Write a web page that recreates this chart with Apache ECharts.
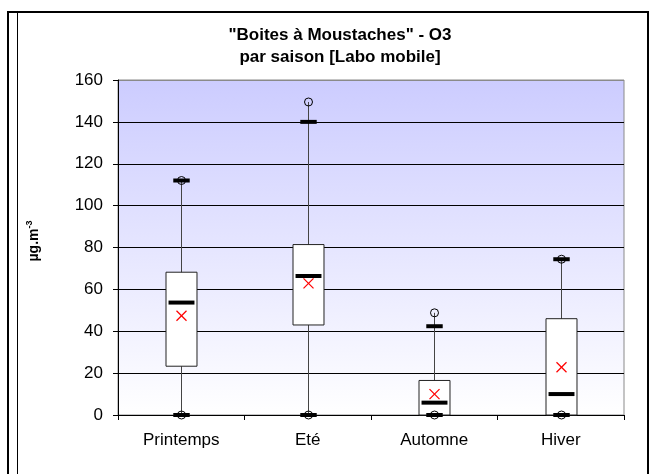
<!DOCTYPE html>
<html>
<head>
<meta charset="utf-8">
<script src="https://cdn.jsdelivr.net/npm/echarts@6/dist/echarts.min.js"></script>
<style>
  html, body { margin: 0; padding: 0; background: #fff; }
  #chart { width: 655px; height: 474px; }
</style>
</head>
<body>
<div id="chart"></div>
<script>
// Seasonal O3 box plots (µg.m-3)
const categories = ['Printemps', 'Eté', 'Automne', 'Hiver'];
const minVals  = [0, 0, 0, 0];
const lowBar   = [0, 0, 0, 0];
const q1       = [23.3, 43.0, 0, 0];
const median   = [53.7, 66.4, 5.9, 10.0];
const q3       = [68.2, 81.4, 16.5, 46.0];
const highBar  = [112.0, 140.0, 42.4, 74.4];
const maxVals  = [112.0, 149.5, 48.8, 74.4];
const meanVals = [47.4, 62.9, 10.0, 22.8];
const yTicks   = [0, 20, 40, 60, 80, 100, 120, 140, 160];

const FONT = 'Liberation Sans, Arial, sans-serif';

const seriesData = categories.map((c, i) => [
  i, minVals[i], lowBar[i], q1[i], median[i], q3[i], highBar[i], maxVals[i], meanVals[i]
]);

function renderBox(params, api) {
  const idx = api.value(0);
  const band = api.size([1, 0])[0];
  const pt = (k) => api.coord([idx, api.value(k)]);
  const pMin = pt(1), pLow = pt(2), pQ1 = pt(3), pMed = pt(4),
        pQ3 = pt(5), pHigh = pt(6), pMax = pt(7), pMean = pt(8);
  const cx = Math.round(pMin[0]) + 0.5;
  const boxW = band * 0.245;
  const medW = band * 0.205;
  const endW = band * 0.13;
  const r = 4;
  const xs = 5;
  const children = [
    { type: 'line', shape: { x1: cx, y1: pMax[1], x2: cx, y2: pMin[1] },
      style: { stroke: '#444', lineWidth: 1 } },
    { type: 'rect', shape: { x: cx - boxW / 2, y: pQ3[1], width: boxW, height: pQ1[1] - pQ3[1] },
      style: { fill: '#fff', stroke: '#222', lineWidth: 1 } },
    { type: 'line', shape: { x1: cx - medW / 2, y1: pMed[1], x2: cx + medW / 2, y2: pMed[1] },
      style: { stroke: '#000', lineWidth: 4 } },
    { type: 'line', shape: { x1: cx - xs, y1: pMean[1] - xs, x2: cx + xs, y2: pMean[1] + xs },
      style: { stroke: '#ff0000', lineWidth: 1.2 } },
    { type: 'line', shape: { x1: cx - xs, y1: pMean[1] + xs, x2: cx + xs, y2: pMean[1] - xs },
      style: { stroke: '#ff0000', lineWidth: 1.2 } },
    { type: 'line', shape: { x1: cx - endW / 2, y1: pHigh[1], x2: cx + endW / 2, y2: pHigh[1] },
      style: { stroke: '#000', lineWidth: 4 } },
    { type: 'line', shape: { x1: cx - endW / 2, y1: pLow[1], x2: cx + endW / 2, y2: pLow[1] },
      style: { stroke: '#000', lineWidth: 4 } },
    { type: 'circle', shape: { cx: cx, cy: pMax[1], r: r },
      style: { fill: 'none', stroke: '#000', lineWidth: 1 } },
    { type: 'circle', shape: { cx: cx, cy: pMin[1], r: r },
      style: { fill: 'none', stroke: '#000', lineWidth: 1 } }
  ];
  return { type: 'group', children: children };
}

const splitColors = yTicks.map((v, i) => (i === yTicks.length - 1 ? '#8a8a8a' : '#000'));

const chart = echarts.init(document.getElementById('chart'), null, { renderer: 'canvas' });
chart.setOption({
  animation: false,
  backgroundColor: '#fff',
  textStyle: { fontFamily: FONT },
  grid: {
    left: 118, right: 31, top: 80, bottom: 59,
    show: true,
    borderColor: '#8a8a8a',
    borderWidth: 1,
    backgroundColor: new echarts.graphic.LinearGradient(0, 0, 0, 1, [
      { offset: 0, color: '#ccccff' },
      { offset: 1, color: '#ffffff' }
    ])
  },
  xAxis: {
    type: 'category',
    data: categories,
    boundaryGap: true,
    axisLine: { lineStyle: { color: '#000', width: 1 } },
    axisTick: { show: true, inside: false, length: 5, lineStyle: { color: '#000' } },
    axisLabel: { color: '#000', fontSize: 17, fontFamily: FONT, margin: 17 },
    splitLine: { show: false }
  },
  yAxis: {
    type: 'value',
    min: yTicks[0],
    max: yTicks[yTicks.length - 1],
    interval: 20,
    axisLine: { show: true, lineStyle: { color: '#000', width: 1 } },
    axisTick: { show: true, inside: false, length: 5, lineStyle: { color: '#000' } },
    axisLabel: { color: '#000', fontSize: 17, fontFamily: FONT, margin: 15 },
    splitLine: { show: true, lineStyle: { color: splitColors, width: 1 } }
  },
  graphic: [
    { type: 'rect', shape: { x: 8, y: 12, width: 640, height: 480 },
      style: { fill: 'none', stroke: '#000', lineWidth: 2 }, silent: true, z: -1 },
    { type: 'line', shape: { x1: 17.5, y1: 12, x2: 17.5, y2: 474 },
      style: { stroke: '#000', lineWidth: 1 }, silent: true, z: -1 },
    { type: 'text', x: 340, y: 35,
      style: { text: '"Boites à Moustaches" - O3', fontFamily: FONT, fontSize: 17, fontWeight: 'bold',
               fill: '#000', align: 'center', verticalAlign: 'middle' } },
    { type: 'text', x: 340, y: 57,
      style: { text: 'par saison [Labo mobile]', fontFamily: FONT, fontSize: 17, fontWeight: 'bold',
               fill: '#000', align: 'center', verticalAlign: 'middle' } },
    { type: 'text', x: 34, y: 241, rotation: Math.PI / 2,
      style: { text: '{a|µg.m}{b|-3}', fill: '#000', align: 'center', verticalAlign: 'middle',
               rich: {
                 a: { fontFamily: FONT, fontSize: 14, fontWeight: 'bold', fill: '#000' },
                 b: { fontFamily: FONT, fontSize: 9, fontWeight: 'bold', fill: '#000', verticalAlign: 'top', padding: [0, 0, 9, 0] }
               } } }
  ],
  series: [{
    type: 'custom',
    renderItem: renderBox,
    encode: { x: 0, y: [1, 2, 3, 4, 5, 6, 7, 8] },
    data: seriesData,
    clip: false,
    z: 5
  }]
});
</script>
</body>
</html>
